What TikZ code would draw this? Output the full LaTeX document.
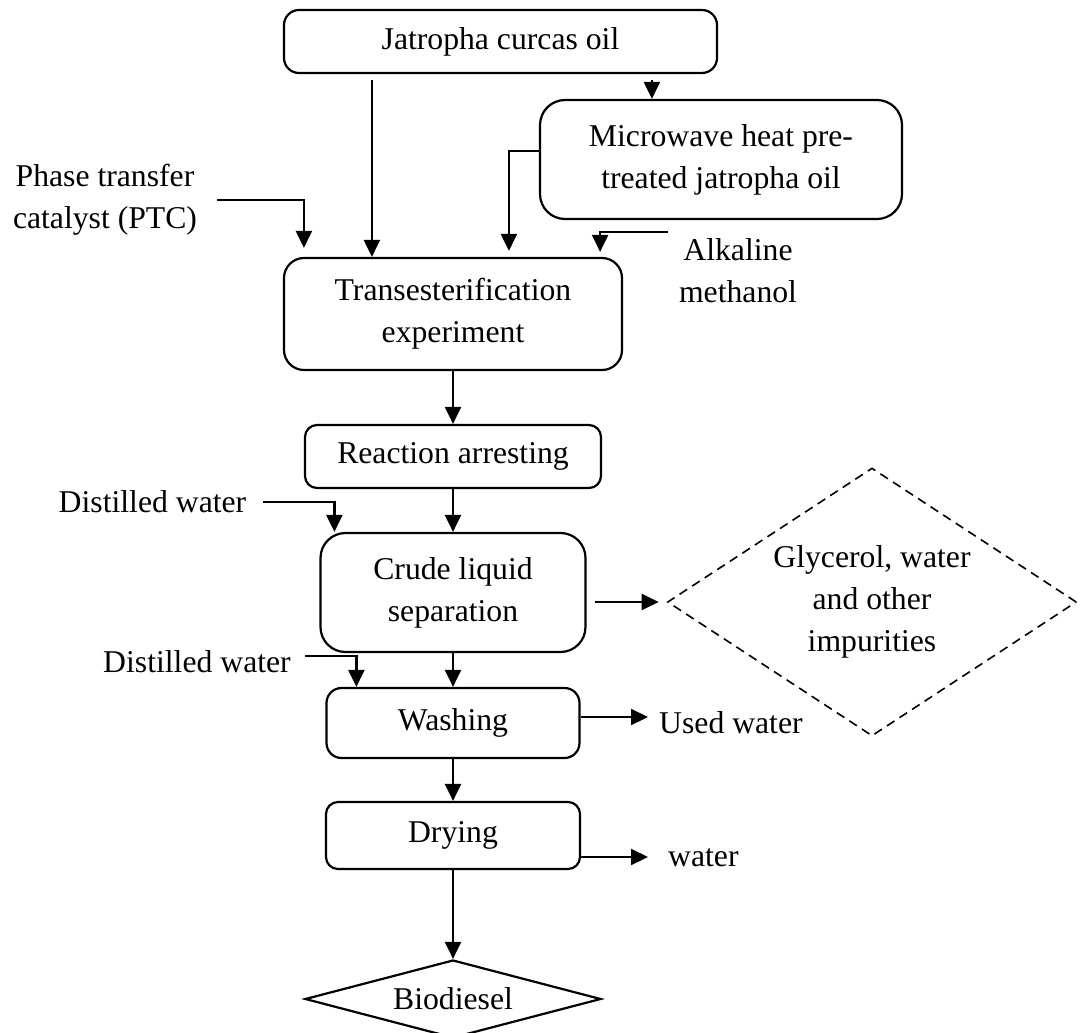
\documentclass[tikz,border=0pt]{standalone}
\usepackage{fontspec}
\setmainfont{Liberation Serif}
\usetikzlibrary{arrows.meta,shapes.geometric,calc}
\begin{document}
\begin{tikzpicture}[x=1pt,y=-1pt,
  every node/.style={font=\fontsize{31.7}{42}\selectfont},
  proc/.style={draw, line width=2.2pt, rounded corners=15pt, inner sep=0pt, align=center},
  arr/.style={line width=2.2pt, -{Triangle[length=17pt,width=16pt]}},
  lbl/.style={inner sep=0pt, align=center}]
\useasboundingbox (0,0) rectangle (1085,1033);

% process boxes
\node[proc, minimum width=433pt, minimum height=63pt] (top) at (500.5,41.5) {Jatropha curcas oil};
\node[proc, rounded corners=25pt, minimum width=362pt, minimum height=119pt] (mw) at (721,159.5) {Microwave heat pre-\\treated jatropha oil};
\node[proc, rounded corners=20pt, minimum width=338pt, minimum height=112pt] (trans) at (453,314) {Transesterification\\experiment};
\node[proc, rounded corners=12pt, minimum width=296pt, minimum height=63pt] (react) at (453,456.5) {Reaction arresting};
\node[proc, rounded corners=25pt, minimum width=265pt, minimum height=119pt] (crude) at (453,592.5) {Crude liquid\\separation};
\node[proc, minimum width=253pt, minimum height=70pt] (wash) at (453,723) {Washing};
\node[proc, rounded corners=12pt, minimum width=254pt, minimum height=67pt] (dry) at (453,835.5) {Drying};
\node[draw, diamond, line width=2.2pt, minimum width=296pt, minimum height=78pt, inner sep=0pt, aspect=4] (bio) at (453,999) {Biodiesel};
\node[draw, diamond, dash pattern=on 9pt off 6pt, line width=1.6pt, minimum width=409pt, minimum height=268pt, inner sep=0pt, aspect=1.5, align=center] (glyc) at (872,602) {Glycerol, water\\and other\\impurities};

% labels
\node[lbl] (ptc) at (105,200) {Phase transfer\\catalyst (PTC)};
\node[lbl] (alk) at (738,271) {Alkaline\\methanol};
\node[lbl] (dw1) at (152.5,502) {Distilled water};
\node[lbl] (dw2) at (197,662) {Distilled water};
\node[lbl, anchor=west] (used) at (659,723) {Used water};
\node[lbl, anchor=west] (water) at (668,858) {water};
\coordinate (alkin) at (668,232);

% connectors
\coordinate (jx) at ($(trans.north west)+(89,0)$);
\draw[arr] ([yshift=-6pt]top.south -| jx) -- (jx);
\coordinate (mx) at ($(mw.north west)+(113,0)$);
\draw[arr] ([yshift=-6pt]top.south -| mx) -- (mx);
\draw[arr] ([yshift=8.5pt]mw.west) -| ($(trans.north west)+(226,-6)$);
\draw[arr] (alkin) -| ($(trans.north east)+(-23,-5)$);
\draw[arr] ([xshift=20pt]ptc.east) -| ($(trans.north west)+(21,-9)$);
\draw[arr] (trans.south) -- (react.north);
\draw[arr] (react.south) -- (crude.north);
\draw[arr] ([xshift=17pt]dw1.east) -| ($(crude.north west)+(15,0)$);
\draw[arr] ([xshift=8pt]crude.east |- glyc.west) -- ([xshift=-8pt]glyc.west);
\draw[arr] (crude.south) -- (wash.north);
\draw[arr] ([xshift=14pt,yshift=6pt]dw2.east) -| ($(wash.north west)+(31,0)$);
\draw[arr] ([yshift=6pt]wash.east) -- ([xshift=-11pt,yshift=6pt]used.west);
\draw[arr] (wash.south) -- (dry.north);
\draw[arr] ([yshift=-21.5pt]dry.east) -- ([xshift=-20pt,yshift=1pt]water.west);
\draw[arr] (dry.south) -- (bio.north);
\end{tikzpicture}
\end{document}
